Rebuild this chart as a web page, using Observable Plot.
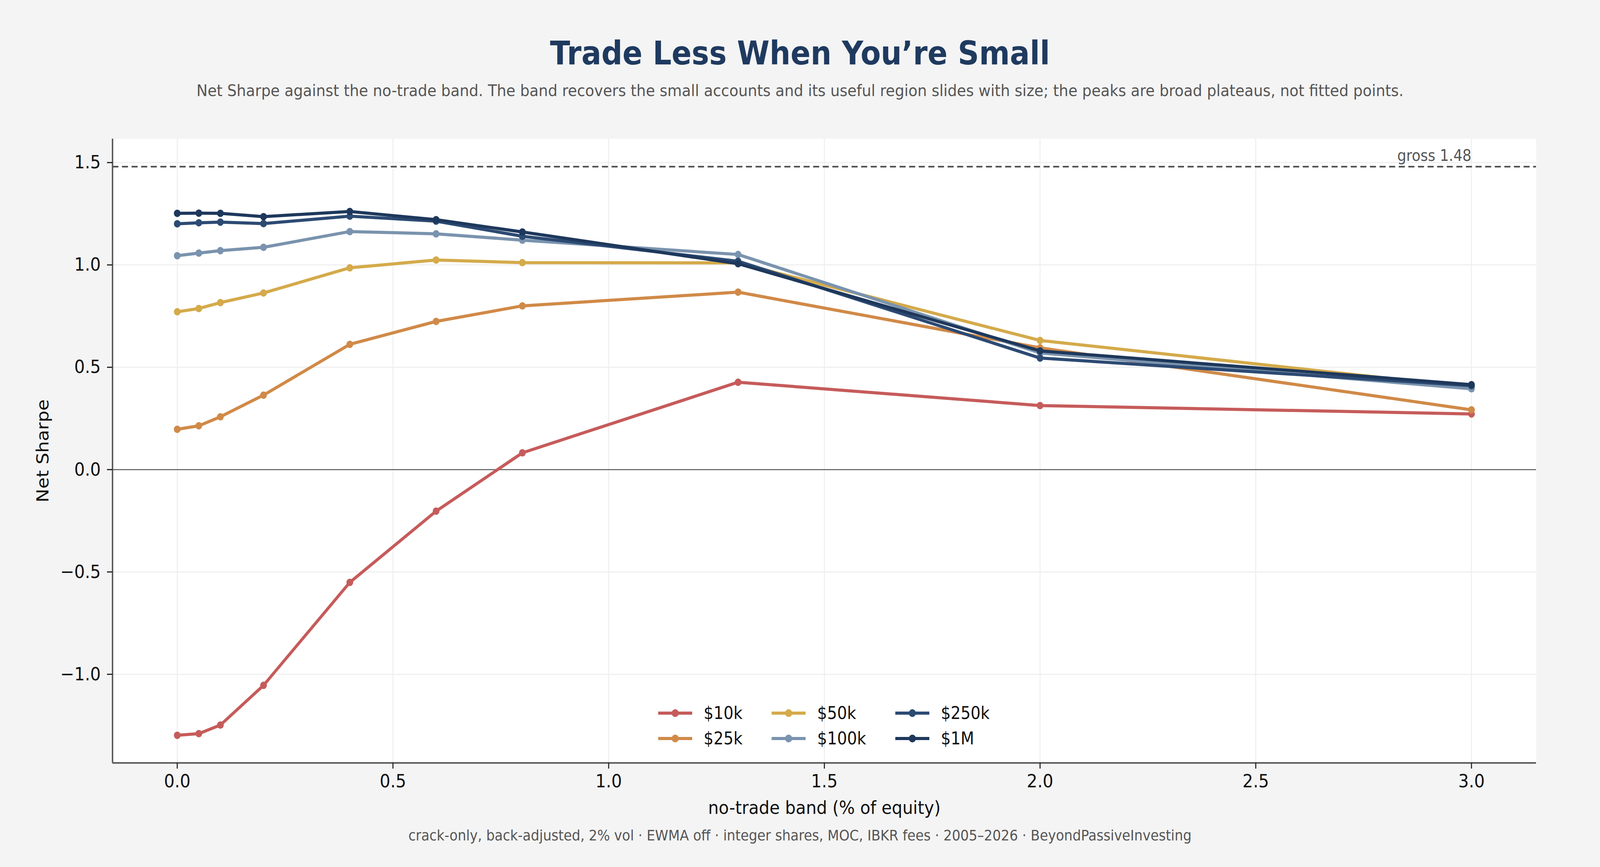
<!DOCTYPE html>
<html>
<head>
<meta charset="utf-8">
<script src="https://cdn.jsdelivr.net/npm/d3@7"></script>
<script src="https://cdn.jsdelivr.net/npm/@observablehq/plot@0.6"></script>
<style>
  html, body { margin: 0; padding: 0; background: #f4f4f4; overflow: hidden; }
  #page { width: 4500px; height: 2220px; position: relative; overflow: hidden; font-family: "DejaVu Sans", sans-serif; transform-origin: 0 0; background: #f4f4f4; }
  .t { position: absolute; left: 0; width: 4500px; text-align: center; line-height: 1; white-space: nowrap; }
  #title { top: 95px; font-size: 83px; font-weight: bold; color: #1f3a5f; }
  #subtitle { top: 211px; font-size: 41.7px; color: #555555; }
  #caption { top: 2121px; font-size: 37.5px; color: #555555; }
  #chart { position: absolute; left: 0; top: 300px; }
  #legend { position: absolute; left: 1851px; top: 1793px; display: grid; grid-template-rows: 65px 65px; grid-auto-flow: column; column-gap: 82px; }
  .li { display: flex; align-items: center; height: 65px; font-size: 44px; color: #111; line-height: 1; }
  .li svg { margin-right: 32px; }
</style>
</head>
<body>
<div id="page">
<div class="t" id="title">Trade Less When You’re Small</div>
<div class="t" id="subtitle">Net Sharpe against the no-trade band. The band recovers the small accounts and its useful region slides with size; the peaks are broad plateaus, not fitted points.</div>
<div id="chart"></div>
<div id="legend"></div>
<div class="t" id="caption">crack-only, back-adjusted, 2% vol · EWMA off · integer shares, MOC, IBKR fees · 2005–2026 · BeyondPassiveInvesting</div>
</div>
<script>
// ---- data ----
const bands = [0, 0.05, 0.1, 0.2, 0.4, 0.6, 0.8, 1.3, 2.0, 3.0];
const accounts = ["$10k", "$25k", "$50k", "$100k", "$250k", "$1M"];
const accountColors = ["#c65b5b", "#d08a48", "#d4aa4a", "#7a93ae", "#2c4a73", "#1e385c"];
const sharpe10k  = [-1.298, -1.290, -1.248, -1.054, -0.551, -0.203, 0.082, 0.427, 0.313, 0.272];
const sharpe25k  = [0.197, 0.214, 0.258, 0.364, 0.612, 0.724, 0.800, 0.867, 0.595, 0.292];
const sharpe50k  = [0.771, 0.787, 0.816, 0.863, 0.986, 1.024, 1.011, 1.010, 0.631, 0.402];
const sharpe100k = [1.045, 1.058, 1.070, 1.086, 1.163, 1.152, 1.121, 1.051, 0.570, 0.395];
const sharpe250k = [1.201, 1.206, 1.209, 1.202, 1.238, 1.214, 1.140, 1.018, 0.545, 0.410];
const sharpe1M   = [1.252, 1.253, 1.252, 1.236, 1.261, 1.221, 1.161, 1.006, 0.580, 0.415];
const grossSharpe = 1.48;
const xTicks = [0, 0.5, 1.0, 1.5, 2.0, 2.5, 3.0];
const yTicks = [-1.0, -0.5, 0.0, 0.5, 1.0, 1.5];
const xDomain = [-0.15, 3.15];
const yDomain = [-1.433, 1.616];

const seriesValues = [sharpe10k, sharpe25k, sharpe50k, sharpe100k, sharpe250k, sharpe1M];
const rows = accounts.map((a, i) => bands.map((b, j) => ({account: a, band: b, sharpe: seriesValues[i][j]})));
const fmt = d3.format(".1f");

// fit the 4500x2220 design to the actual viewport
const VW = document.documentElement.clientWidth || window.innerWidth;
const VH = document.documentElement.clientHeight || window.innerHeight;
document.getElementById("page").style.transform = `scale(${VW / 4500}, ${VH / 2220})`;

const seriesMarks = rows.flatMap((data) => [
  Plot.line(data, {x: "band", y: "sharpe", stroke: "account", strokeWidth: 8, strokeLinejoin: "round"}),
  Plot.dot(data, {x: "band", y: "sharpe", fill: "account", r: 9.5, stroke: null})
]);

const chart = Plot.plot({
  width: 4500,
  height: 1800,
  marginLeft: 316,
  marginRight: 180,
  marginTop: 55,
  marginBottom: 147,
  style: {fontFamily: "DejaVu Sans", background: "transparent", overflow: "visible"},
  x: {domain: xDomain},
  y: {domain: yDomain},
  color: {domain: accounts, range: accountColors},
  marks: [
    Plot.frame({fill: "white", stroke: null}),
    Plot.gridX(xTicks, {stroke: "#ededed", strokeOpacity: 1, strokeWidth: 2.5}),
    Plot.gridY(yTicks, {stroke: "#ededed", strokeOpacity: 1, strokeWidth: 2.5}),
    Plot.ruleY([0], {stroke: "#5a5a5a", strokeWidth: 2.5}),
    Plot.ruleY([grossSharpe], {stroke: "#4a4a4a", strokeWidth: 4, strokeDasharray: "17,10"}),
    Plot.text([{x: bands[bands.length - 1], y: grossSharpe, label: `gross ${grossSharpe}`}],
      {x: "x", y: "y", text: "label", textAnchor: "end", lineAnchor: "middle", dy: -28, fontSize: 40, fill: "#555555"}),
    ...seriesMarks,
    Plot.ruleX([xDomain[0]], {stroke: "#555555", strokeWidth: 4}),
    Plot.ruleY([yDomain[0]], {stroke: "#555555", strokeWidth: 4}),
    Plot.axisX(xTicks, {tickSize: 15, tickPadding: 14, tickFormat: fmt, fontSize: 47, stroke: "#222", fill: "#111", strokeWidth: 3,
      label: "no-trade band (% of equity)", labelAnchor: "center", labelArrow: "none", labelOffset: 130}),
    Plot.axisY(yTicks, {tickSize: 15, tickPadding: 18, tickFormat: fmt, fontSize: 47, stroke: "#222", fill: "#111", strokeWidth: 3,
      label: "Net Sharpe", labelAnchor: "center", labelArrow: "none", labelOffset: 214})
  ]
});
document.getElementById("chart").appendChild(chart);

// legend
const legend = document.getElementById("legend");
accounts.forEach((a, i) => {
  const item = document.createElement("div");
  item.className = "li";
  item.innerHTML = `<svg width="96" height="24" viewBox="0 0 96 24"><line x1="0" x2="96" y1="12" y2="12" stroke="${accountColors[i]}" stroke-width="8"/><circle cx="48" cy="12" r="10" fill="${accountColors[i]}"/></svg><span>${a}</span>`;
  legend.appendChild(item);
});
</script>
</body>
</html>
